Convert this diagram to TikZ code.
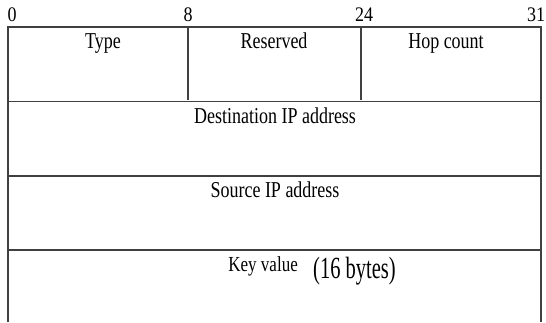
\documentclass[tikz,border=0pt]{standalone}
\usepackage{fontspec}
\setmainfont{Liberation Serif}
\usepackage{graphicx}
\usepackage{xcolor}
\definecolor{pktline}{RGB}{64,64,64}
\usepackage{tikz}
\usetikzlibrary{positioning}

% the printed text is a little taller than the font
\newcommand{\fieldtext}[2][1.26]{\scalebox{1}[#1]{#2}}

\tikzset{
  field/.style={font=\fontsize{18}{20}\selectfont, inner sep=0pt, anchor=base},
  bitno/.style={font=\fontsize{18}{20}\selectfont, inner sep=0pt, anchor=base},
  bigtxt/.style={font=\fontsize{20.5}{23}\selectfont, inner sep=0pt, anchor=base},
  rule/.style={draw=pktline, line width=1.6pt}
}

\begin{document}
\begin{tikzpicture}[x=1pt, y=-1pt]
\useasboundingbox (0,0) rectangle (546,322);

% Frame of the header
\draw[rule] (8,322) -- (8,27) -- (541,27) -- (541,322);
\draw[rule] (8,101.5) -- (541,101.5);
\draw[rule] (8,176) -- (541,176);
\draw[rule] (8,250) -- (541,250);

% Field borders in the first word
\draw[rule] (188,27) -- (188,100);
\draw[rule] (361,27) -- (361,100);

% Bit positions
\node[bitno] (b0)  at (12,21)  {\fieldtext[1.15]{0}};
\node[bitno] (b8)  at (188,21) {\fieldtext[1.15]{8}};
\node[bitno] (b24) at (364,21) {\fieldtext[1.15]{24}};
\node[bitno] (b31) at (536,21) {\fieldtext[1.15]{31}};

% First word
\node[field] (type) at (103,48) {\fieldtext{Type}};
\node[field] (resv) at (274,48) {\fieldtext{Reserved}};
\node[field] (hops) at (446,48) {\fieldtext{Hop count}};

% Addresses
\node[field] (dst) at (275,123) {\fieldtext{Destination IP address}};
\node[field] (src) at (275,197) {\fieldtext{Source IP address}};

% Key
\node[field, anchor=base east, font=\fontsize{17}{19}\selectfont]
  (key) at (298,271) {\fieldtext{Key value}};
\node[bigtxt, anchor=base west] (keylen) at (313,278) {\fieldtext[1.5]{(16 bytes)}};

\end{tikzpicture}
\end{document}
